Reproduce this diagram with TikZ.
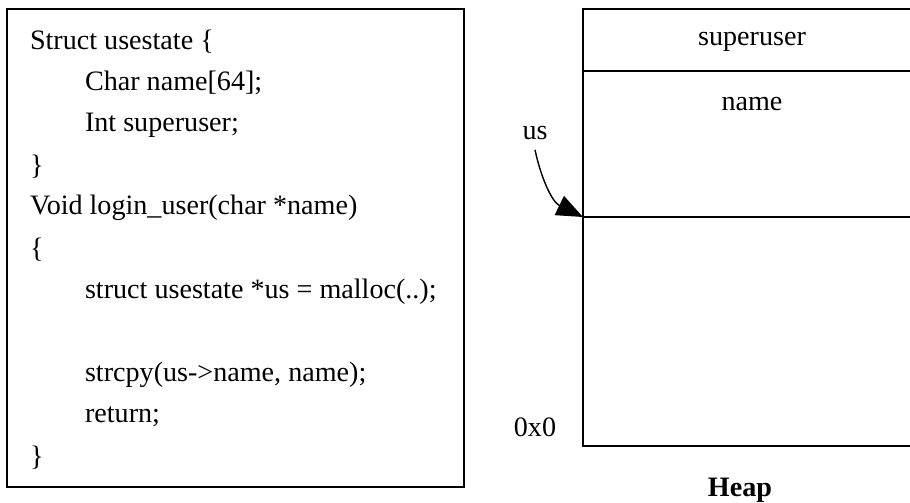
\documentclass[tikz,border=0pt]{standalone}
\usepackage{fontspec}
\setmainfont{Liberation Serif}
\usetikzlibrary{arrows.meta}
\tikzset{
  codeline/.style={anchor=west, inner sep=0pt, font=\fontsize{16}{18}\selectfont},
  lbl/.style={inner sep=0pt, font=\fontsize{16}{18}\selectfont},
}
\begin{document}
\begin{tikzpicture}[x=0.02cm, y=-0.02cm, line width=1.2pt]
                \useasboundingbox (0,0) rectangle (910,503);
                % code listing
                \draw (7,9) rectangle (464,487);
                \node[codeline] (l1) at (29,42){Struct usestate \{};
                \node[codeline] (l2) at (84,83){Char name[64];};
                \node[codeline] (l3) at (84,125){Int superuser;};
                \node[codeline] (l4) at (29,167){\}};
                \node[codeline] (l5) at (29,208){Void login\_user(char *name)};
                \node[codeline] (l6) at (29,250){\{};
                \node[codeline] (l7) at (84,292){struct usestate *us = malloc(..);};
                \node[codeline] (l8) at (84,375){strcpy(us->name, name);};
                \node[codeline] (l9) at (84,417){return;};
                \node[codeline] (l10) at (29,458){\}};
                % heap
                \draw (910,9) -- (583,9) -- (583,446) -- (910,446);
                \draw (583,71) -- (910,71);
                \draw (583,217) -- (910,217);
                \coordinate (us0) at (583,217);
                \node[lbl] (su) at (752,42){superuser};
                \node[lbl] (nm) at (752,104){name};
                \node[lbl] (us) at (535,133){us};
                \node[lbl] (zero) at (535,427){0x0};
                \node[lbl, font=\fontsize{16}{18}\selectfont\bfseries] (heap) at (740,490){Heap};
                \draw[-{Triangle[length=15pt,width=12pt]}, line width=0.8pt] (us.south) ++(0,9) .. controls (541,178) and (552,202) .. (us0);
\end{tikzpicture}
\end{document}
